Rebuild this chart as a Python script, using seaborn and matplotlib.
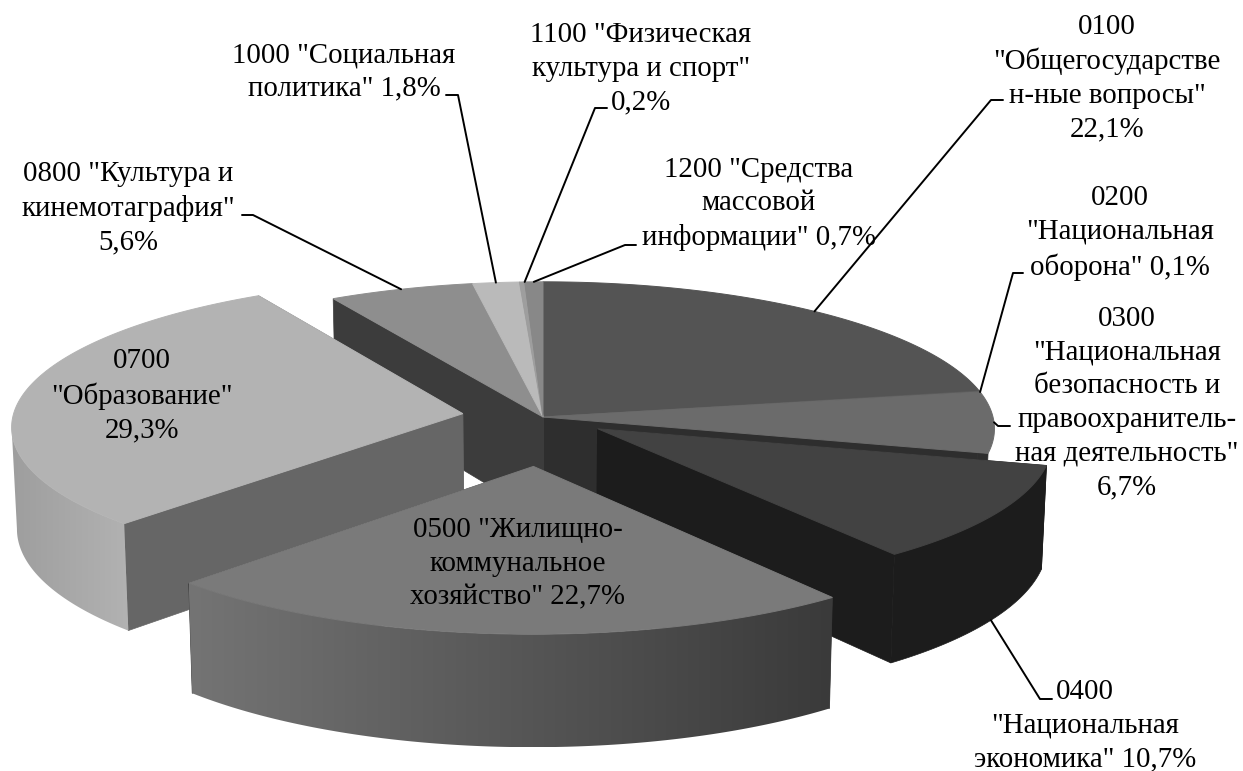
import numpy as np
import seaborn as sns
import matplotlib.pyplot as plt
from matplotlib.colors import LinearSegmentedColormap
from matplotlib.patches import Polygon

# values (percent of the budget, clockwise from 12 o'clock)
codes = ['0100', '0200', '0300', '0400', '0500', '0700', '0800', '1000', '1100', '1200']
shares = [22.1, 0.1, 6.7, 10.7, 22.7, 29.3, 5.6, 1.8, 0.2, 0.7]
explode = [0, 0, 0, 0.144, 0.33, 0.18, 0, 0, 0, 0]
labels = [
    '0100\n"Общегосударстве\nн-ные вопросы"\n22,1%',
    '0200\n"Национальная\nоборона" 0,1%',
    '0300\n"Национальная\nбезопасность и\nправоохранитель-\nная деятельность"\n6,7%',
    '0400\n"Национальная\nэкономика" 10,7%',
    '0500 "Жилищно-\nкоммунальное\nхозяйство" 22,7%',
    '0700\n"Образование"\n29,3%',
    '0800 "Культура и\nкинемотаграфия"\n5,6%',
    '1000 "Социальная\nполитика" 1,8%',
    '1100 "Физическая\nкультура и спорт"\n0,2%',
    '1200 "Средства\nмассовой\nинформации" 0,7%',
]
label_pos = [(1107, 78), (1120, 233), (1127, 403), (1085, 726), (518, 564),
             (142, 396), (128, 208), (344, 72), (641, 69), (759, 204)]
# leader lines: elbow points near the labels, None for labels sitting on the slice
elbows = [[(991, 100), (1003, 100)], [(1013, 273), (1023, 273)], [(998, 426), (1010, 426)],
          [(1040, 699), (1052, 699)], None, None, [(253, 215), (242, 215)],
          [(458, 95), (446, 95)], [(595, 108), (607, 108)], [(625, 245), (636, 245)]]

top_colors = ['#545454', '#5e5e5e', '#6b6b6b', '#424242', '#7a7a7a',
              '#b3b3b3', '#8e8e8e', '#bababa', '#9e9e9e', '#888888']
wall_colors = ['#2e2e2e', '#2e2e2e', '#2e2e2e', '#1c1c1c', '#3a3a3a',
               '#666666', '#3c3c3c', '#3c3c3c', '#3c3c3c', '#3c3c3c']
# shading of the curved side, from its left to its right
side_left = ['#333333', '#333333', '#333333', '#1c1c1c', '#747474',
             '#9e9e9e', '#3c3c3c', '#3c3c3c', '#3c3c3c', '#3c3c3c']
side_right = ['#333333', '#333333', '#333333', '#1c1c1c', '#3a3a3a',
              '#b2b2b2', '#3c3c3c', '#3c3c3c', '#3c3c3c', '#3c3c3c']
# drawing order, back to front
layers = [1, 1, 1, 2, 4, 3, 1, 1, 1, 1]

# camera of the 3D pie
CX, CY = 543, 417
RADIUS = 450
FLAT = 146
PERSP = 0.08
THICK = 101

sns.set_theme(style='white')
plt.rcParams['font.family'] = ['Liberation Serif', 'DejaVu Serif']


def project(x, y, z=0.0):
    x, y = np.asarray(x, dtype=float), np.asarray(y, dtype=float)
    w = 1 / (1 - PERSP * y)
    return CX + RADIUS * x * w * (1 - 0.01 * z), CY + FLAT * y * w + THICK * z * w


def rim(theta, off):
    return off[0] + np.sin(np.radians(theta)), off[1] - np.cos(np.radians(theta))


def silhouette(sx, sy):
    # keep the run of the rim between its right and left extremes
    i1 = np.argmin(sx)
    i0 = np.argmax(sx[:i1 + 1])
    return sx[i0:i1 + 1], sy[i0:i1 + 1]


# the printed shares add up to 99.9, the pie still closes
edges = np.concatenate([[0], np.cumsum(shares)]) / np.sum(shares) * 360
mids = (edges[:-1] + edges[1:]) / 2
offsets = [(e * np.sin(np.radians(m)), -e * np.cos(np.radians(m))) for e, m in zip(explode, mids)]

fig = plt.figure(figsize=(12.43, 7.71), dpi=100)
ax = fig.add_axes([0, 0, 1, 1])


def draw_slice(i):
    a, b = edges[i], edges[i + 1]
    off = offsets[i]
    zo = layers[i] * 2
    th = np.linspace(a, b, max(3, int((b - a) * 2)))
    xs, ys = rim(th, off)

    # radial walls
    for t in (a, b):
        rx, ry = rim(t, off)
        sx, sy = project([off[0], rx, rx, off[0]], [off[1], ry, ry, off[1]], np.array([0, 0, 1, 1]))
        ax.fill(sx, sy, color=wall_colors[i], lw=0.5, zorder=zo)

    # curved side, only the part that faces the viewer
    front = (th >= 60) & (th <= 310)
    if front.sum() > 1:
        up_x, up_y = silhouette(*project(xs[front], ys[front], 0.0))
        lo_x, lo_y = silhouette(*project(xs[front], ys[front], 1.0))
        outline = np.c_[np.r_[up_x, lo_x[::-1]], np.r_[up_y, lo_y[::-1]]]
        if side_left[i] == side_right[i]:
            ax.fill(outline[:, 0], outline[:, 1], color=side_left[i], lw=0.5, zorder=zo)
        else:
            cmap = LinearSegmentedColormap.from_list('side', [side_left[i], side_right[i]])
            shade = np.linspace(0, 1, 256).reshape(1, -1)
            img = ax.imshow(shade, cmap=cmap, aspect='auto', zorder=zo,
                            extent=(outline[:, 0].min(), outline[:, 0].max(),
                                    outline[:, 1].max(), outline[:, 1].min()))
            clip = Polygon(outline, closed=True, transform=ax.transData, fc='none', ec='none')
            ax.add_patch(clip)
            img.set_clip_path(clip)

    # top face
    tx, ty = project(np.r_[off[0], xs], np.r_[off[1], ys])
    ax.fill(tx, ty, color=top_colors[i], lw=0.7, zorder=zo + 1)


for i in sorted(range(len(shares)), key=lambda n: layers[n]):
    draw_slice(i)

# labels and their leader lines
for i, lab in enumerate(labels):
    ax.text(label_pos[i][0], label_pos[i][1], lab, ha='center', va='center',
            fontsize=20.8, linespacing=1.38, color='black', zorder=12)
    if elbows[i] is None:
        continue
    rx, ry = rim(edges[i + 1] if shares[i] < 0.5 else mids[i], offsets[i])
    # 0400 leaves from the lower edge of the side wall
    sx, sy = project(rx, ry, 1.0 if codes[i] == '0400' else 0.0)
    ex = [float(sx)] + [p[0] for p in elbows[i]]
    ey = [float(sy)] + [p[1] for p in elbows[i]]
    ax.plot(ex, ey, color='black', lw=1.4, zorder=11)

ax.set_xlim(0, 1243)
ax.set_ylim(771, 0)
ax.axis('off')
plt.savefig('out.png', dpi=100, facecolor='white')
